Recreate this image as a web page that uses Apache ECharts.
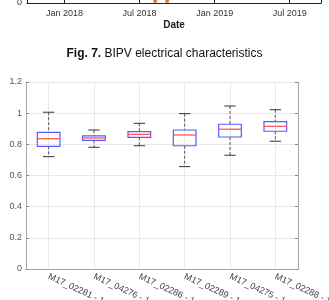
<!DOCTYPE html>
<html>
<head>
<meta charset="utf-8">
<style>
html,body{margin:0;padding:0;background:#fff;}
#main{width:329px;height:300px;}
</style>
</head>
<body>
<div id="main"></div>
<script src="https://cdn.jsdelivr.net/npm/echarts@6/dist/echarts.min.js"></script>
<script>
// top figure (cut off): date axis in months from Jan 2018
var dateTicks = [0, 6, 12, 18];
var dateLabels = ['Jan 2018', 'Jul 2018', 'Jan 2019', 'Jul 2019'];
var dotMonths = [7.24, 8.2];
var dotValues = [0.03, 0.03];

// box plot of PR
var boxCats = ['M17_02281 - 1', 'M17_04276 - 1', 'M17_02286 - 1', 'M17_02289 - 1', 'M17_04275 - 1', 'M17_02288 - 1'];
var whiskerLow = [0.721, 0.781, 0.791, 0.657, 0.730, 0.820];
var q1 = [0.787, 0.826, 0.845, 0.791, 0.847, 0.884];
var medians = [0.836, 0.841, 0.864, 0.860, 0.897, 0.916];
var q3 = [0.877, 0.854, 0.881, 0.892, 0.929, 0.946];
var whiskerHigh = [1.006, 0.892, 0.935, 0.997, 1.046, 1.022];

var font = '"Liberation Sans", Arial, sans-serif';
var frameColor = '#a8a8a8';

var boxData = boxCats.map(function (c, i) {
    return [i, whiskerLow[i], q1[i], medians[i], q3[i], whiskerHigh[i]];
});
var dotData = dotMonths.map(function (m, i) { return [m, dotValues[i]]; });

function renderBox(params, api) {
    var i = api.value(0);
    var low = api.coord([i, api.value(1)]);
    var lo = api.coord([i, api.value(2)]);
    var med = api.coord([i, api.value(3)]);
    var hi = api.coord([i, api.value(4)]);
    var high = api.coord([i, api.value(5)]);
    var w = api.size([1, 0])[0] * 0.5;
    var x = low[0];
    var dash = {stroke: '#555', lineWidth: 1, lineDash: [3, 2]};
    var cap = {stroke: '#333', lineWidth: 1};
    return {
        type: 'group',
        children: [
            {type: 'line', shape: {x1: x, y1: high[1], x2: x, y2: hi[1]}, style: dash},
            {type: 'line', shape: {x1: x, y1: lo[1], x2: x, y2: low[1]}, style: dash},
            {type: 'line', shape: {x1: x - w / 4, y1: high[1], x2: x + w / 4, y2: high[1]}, style: cap},
            {type: 'line', shape: {x1: x - w / 4, y1: low[1], x2: x + w / 4, y2: low[1]}, style: cap},
            {type: 'rect', shape: {x: x - w / 2, y: hi[1], width: w, height: lo[1] - hi[1]},
                style: {fill: 'none', stroke: '#5a5aff', lineWidth: 1.2}},
            {type: 'line', shape: {x1: x - w / 2, y1: med[1], x2: x + w / 2, y2: med[1]},
                style: {stroke: '#ff4a4a', lineWidth: 1.2}}
        ]
    };
}

var chart = echarts.init(document.getElementById('main'));
var option = {
    animation: false,
    backgroundColor: '#fff',
    textStyle: {fontFamily: font},
    title: {
        text: '{b|Fig. 7.} BIPV electrical characteristics',
        left: 'center',
        top: 43,
        textStyle: {
            fontSize: 12, fontWeight: 'normal', color: '#111', fontFamily: font,
            rich: {b: {fontSize: 12, fontWeight: 'bold', color: '#111', fontFamily: font}}
        }
    },
    grid: [
        {left: 27, right: 8, top: -60, height: 63, outerBoundsMode: 'none', containLabel: false},
        {left: 26, right: 31, top: 82, bottom: 31, outerBoundsMode: 'none', containLabel: false}
    ],
    xAxis: [
        {
            gridIndex: 0, type: 'value', min: -3, max: 20.5,
            name: 'Date', nameLocation: 'middle', nameGap: 17,
            nameTextStyle: {fontSize: 10, fontWeight: 'bold', color: '#222', fontFamily: font},
            axisLine: {lineStyle: {color: '#222'}},
            axisTick: {inside: true, length: 3, customValues: dateTicks, lineStyle: {color: '#222'}},
            axisLabel: {
                customValues: dateTicks, fontSize: 9, color: '#333', margin: 6,
                formatter: function (v) { return dateLabels[dateTicks.indexOf(v)]; }
            },
            splitLine: {show: false}
        },
        {
            gridIndex: 1, type: 'category', data: boxCats,
            axisLine: {lineStyle: {color: frameColor}},
            axisTick: {inside: true, alignWithLabel: true, length: 3, lineStyle: {color: '#888'}},
            axisLabel: {rotate: -25, fontSize: 9, color: '#444', margin: 7, interval: 0},
            splitLine: {show: true, alignWithLabel: true, lineStyle: {color: '#e8e8e8'}}
        },
        {
            gridIndex: 1, type: 'category', data: boxCats, position: 'top',
            axisLine: {lineStyle: {color: frameColor}},
            axisTick: {show: false},
            axisLabel: {show: false}
        }
    ],
    yAxis: [
        {
            gridIndex: 0, type: 'value', min: 0, max: 1,
            axisLine: {show: true, onZero: false, lineStyle: {color: '#222'}},
            axisTick: {show: false},
            axisLabel: {customValues: [0], fontSize: 9, color: '#333', margin: 5},
            splitLine: {show: false}
        },
        {
            gridIndex: 0, type: 'value', min: 0, max: 1, position: 'right',
            axisLine: {show: true, onZero: false, lineStyle: {color: '#222'}},
            axisTick: {show: false}, axisLabel: {show: false}, splitLine: {show: false}
        },
        {
            gridIndex: 1, type: 'value', min: 0, max: 1.2, interval: 0.2,
            name: 'PR / -', nameLocation: 'middle', nameGap: 18,
            nameTextStyle: {fontSize: 10, fontWeight: 'bold', color: '#222', fontFamily: font},
            axisLine: {show: true, lineStyle: {color: frameColor}},
            axisTick: {show: true, inside: true, length: 3, lineStyle: {color: '#888'}},
            axisLabel: {fontSize: 9, color: '#555', margin: 4,
                formatter: function (v) { return String(Math.round(v * 10) / 10); }},
            splitLine: {show: true, lineStyle: {color: '#e8e8e8'}}
        },
        {
            gridIndex: 1, type: 'value', min: 0, max: 1.2, interval: 0.2, position: 'right',
            axisLine: {show: true, lineStyle: {color: frameColor}},
            axisTick: {show: true, inside: true, length: 3, lineStyle: {color: '#888'}},
            axisLabel: {show: false}, splitLine: {show: false}
        }
    ],
    series: [
        {
            type: 'scatter', xAxisIndex: 0, yAxisIndex: 0,
            data: dotData, symbolSize: 4,
            itemStyle: {color: '#d95319'}
        },
        {
            type: 'custom', xAxisIndex: 1, yAxisIndex: 2,
            data: boxData, renderItem: renderBox,
            encode: {x: 0, y: [1, 2, 3, 4, 5]}
        }
    ]
};
chart.setOption(option);
</script>
</body>
</html>
